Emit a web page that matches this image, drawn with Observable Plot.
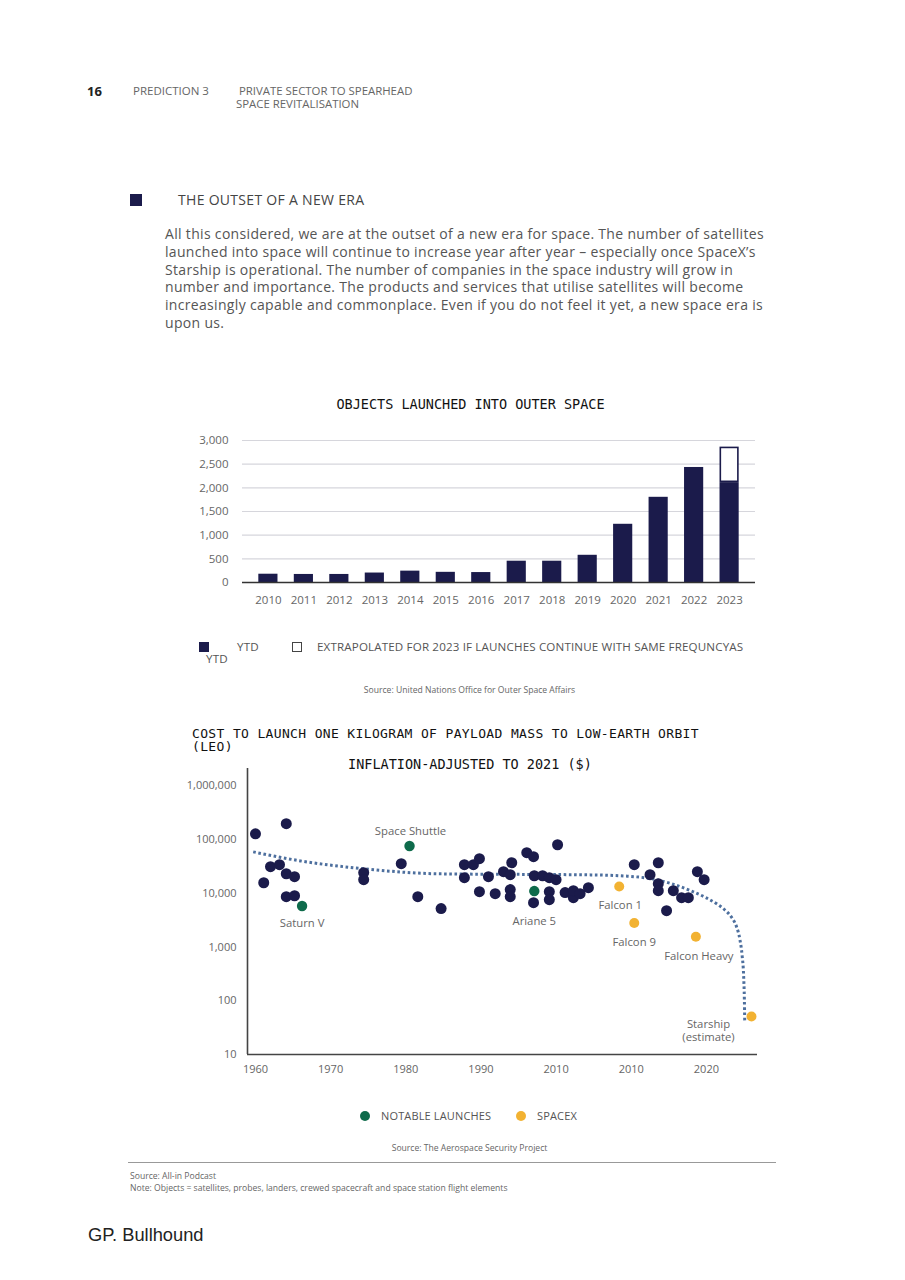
<!DOCTYPE html>
<html>
<head>
<meta charset="utf-8">
<script src="https://cdn.jsdelivr.net/npm/d3@7"></script>
<script src="https://cdn.jsdelivr.net/npm/@observablehq/plot@0.6"></script>
<style>
  html, body { margin: 0; padding: 0; background: #fff; }
  #page { position: relative; width: 905px; height: 1280px; overflow: hidden; font-family: "Open Sans", sans-serif; color: #555; }
  .abs { position: absolute; white-space: nowrap; }
  .mono { font-family: "DejaVu Sans Mono", monospace; color: #111; font-size: 13.5px; }
  .small { font-size: 8.6px; color: #666; }
  .leg { font-size: 11.6px; color: #555; line-height: 14px; letter-spacing: 0.15px; }
</style>
</head>
<body>
<div id="page">
  <div class="abs" style="left:87px;top:83px;font-size:13px;font-weight:bold;color:#222;line-height:16px;">16</div>
  <div class="abs" style="left:133px;top:84px;font-size:11.5px;color:#666;line-height:13px;">PREDICTION 3</div>
  <div class="abs" style="left:236px;top:84px;font-size:11.4px;color:#666;line-height:13px;">&nbsp;PRIVATE SECTOR TO SPEARHEAD<br>SPACE REVITALISATION</div>

  <div class="abs" style="left:130px;top:194px;width:12px;height:12px;background:#1b1b4b;"></div>
  <div class="abs" style="left:178px;top:191px;font-size:14px;letter-spacing:0.3px;color:#444;line-height:17px;">THE OUTSET OF A NEW ERA</div>
  <div class="abs" style="left:165px;top:225px;font-size:14px;letter-spacing:0.32px;color:#555;line-height:17.8px;">All this considered, we are at the outset of a new era for space. The number of satellites<br>launched into space will continue to increase year after year – especially once SpaceX’s<br>Starship is operational. The number of companies in the space industry will grow in<br>number and importance. The products and services that utilise satellites will become<br>increasingly capable and commonplace. Even if you do not feel it yet, a new space era is<br>upon us.</div>

  <div class="abs mono" style="left:0;width:905px;text-align:center;padding-left:36px;box-sizing:border-box;top:396px;line-height:16px;">OBJECTS LAUNCHED INTO OUTER SPACE</div>
  <div id="bars" class="abs" style="left:180px;top:425px;"></div>

  <div class="abs" style="left:199px;top:642px;width:10px;height:10px;background:#1b1b4b;"></div>
  <div class="abs leg" style="left:237px;top:640px;">YTD</div>
  <div class="abs leg" style="left:206px;top:652px;">YTD</div>
  <div class="abs" style="left:292px;top:642px;width:8px;height:8px;border:1.3px solid #444;"></div>
  <div class="abs leg" style="left:317px;top:640px;">EXTRAPOLATED FOR 2023 IF LAUNCHES CONTINUE WITH SAME FREQUNCYAS</div>
  <div class="abs small" style="left:0;width:905px;text-align:center;padding-left:34px;box-sizing:border-box;top:685px;line-height:11px;">Source: United Nations Office for Outer Space Affairs</div>

  <div class="abs mono" style="left:192px;top:727px;font-size:13px;letter-spacing:0.35px;line-height:13px;">COST TO LAUNCH ONE KILOGRAM OF PAYLOAD MASS TO LOW-EARTH ORBIT<br>(LEO)</div>
  <div id="scatter" class="abs" style="left:180px;top:760px;"></div>
  <div class="abs mono" style="left:348px;top:756px;line-height:16px;z-index:2;">INFLATION-ADJUSTED TO 2021 ($)</div>

  <div class="abs" style="left:360px;top:1111px;width:10px;height:10px;border-radius:50%;background:#0e6b4b;"></div>
  <div class="abs leg" style="left:381px;top:1109px;font-size:11px;">NOTABLE LAUNCHES</div>
  <div class="abs" style="left:516px;top:1111px;width:10px;height:10px;border-radius:50%;background:#f2b232;"></div>
  <div class="abs leg" style="left:537px;top:1109px;font-size:11px;">SPACEX</div>
  <div class="abs small" style="left:0;width:905px;text-align:center;padding-left:34px;box-sizing:border-box;top:1143px;line-height:11px;">Source: The Aerospace Security Project</div>

  <div class="abs" style="left:128px;top:1162px;width:648px;height:1px;background:#999;"></div>
  <div class="abs small" style="left:130px;top:1170px;line-height:12px;">Source: All-in Podcast<br>Note: Objects = satellites, probes, landers, crewed spacecraft and space station flight elements</div>

  <div class="abs" style="left:88px;top:1224px;font-family:'Liberation Sans',Arial,sans-serif;font-size:18.3px;color:#222;line-height:22px;">GP. Bullhound</div>
</div>
<script>
// ---------- Bar chart data ----------
const years = [2010, 2011, 2012, 2013, 2014, 2015, 2016, 2017, 2018, 2019, 2020, 2021, 2022, 2023];
const objectsYTD = [175, 170, 170, 200, 240, 215, 210, 450, 450, 575, 1230, 1800, 2430, 2110];
const extrapolatedYear = "2023";
const extrapolated2023 = 2860;
const barTicks = [0, 500, 1000, 1500, 2000, 2500, 3000];

// ---------- Scatter chart data ----------
const launchYears = [1960.0, 1964.1, 1961.1, 1962.0, 1963.2, 1964.1, 1965.2, 1964.1, 1965.2, 1974.4,
  1974.4, 1979.4, 1981.6, 1984.7, 1987.8, 1989.0, 1989.8, 1987.8, 1991.0, 1989.8,
  1991.9, 1993.0, 1994.1, 1993.9, 1993.9, 1993.9, 1996.1, 1997.0, 2000.2, 1997.1,
  1998.2, 1999.1, 2000.0, 1997.0, 1999.1, 1999.1, 2001.2, 2002.3, 2002.3, 2003.2,
  2004.3, 2010.4, 2013.6, 2012.5, 2013.6, 2013.6, 2015.6, 2016.7, 2017.6, 2014.7,
  2018.8, 2019.7];
const launchCosts = [128000, 197000, 15700, 31200, 34000, 23100, 20400, 8650, 9000, 24200,
  17900, 35500, 8650, 5200, 34000, 34000, 44000, 19500, 20400, 10700,
  9850, 25200, 37000, 22200, 11700, 8650, 56900, 47900, 80000, 21200,
  21200, 19500, 17900, 6700, 10700, 7600, 10300, 8300, 11200, 9850,
  12700, 34000, 37000, 22200, 15100, 11200, 11200, 8300, 8300, 4750,
  25200, 17900];

const notableNames = ["Saturn V", "Space Shuttle", "Ariane 5"];
const notableYears = [1966.2, 1980.5, 1997.1];
const notableCosts = [5800, 76000, 11000];

const spacexNames = ["Falcon 1", "Falcon 9", "Falcon Heavy", "Starship\n(estimate)"];
const spacexYears = [2008.4, 2010.4, 2018.6, 2026.0];
const spacexCosts = [13400, 2800, 1550, 51];

const trendYears = [1959.7, 1966, 1974.4, 1984.6, 1995, 2004.6, 2009.5, 2012.5, 2015.2, 2017.9, 2020.0, 2021.5, 2022.6, 2023.4, 2024.0, 2024.45, 2024.75, 2024.95, 2025.05, 2025.1];
const trendCosts = [59000, 40000, 28600, 23000, 22500, 22000, 20800, 18800, 15300, 11200, 8200, 6200, 4700, 3500, 2400, 1400, 700, 300, 110, 42];

const xTicks = [1960, 1970, 1980, 1990, 2000, 2010, 2020];
const xTickLabels = ["1960", "1970", "1980", "1990", "2010", "2010", "2020"];
const yTicks = [10, 100, 1000, 10000, 100000, 1000000];

// ---------- styles ----------
const navy = "#1b1b4b";
const green = "#0e6b4b";
const orange = "#f2b232";
const trendColor = "#4d6f9e";

// ---------- Bar chart ----------
const barRows = years.map((y, i) => ({year: String(y), value: objectsYTD[i]}));
const extraRows = [{year: extrapolatedYear, y1: objectsYTD[years.indexOf(+extrapolatedYear)], y2: extrapolated2023}];

const barChart = Plot.plot({
  width: 590, height: 190,
  marginLeft: 62, marginRight: 15, marginTop: 15, marginBottom: 33,
  style: {fontFamily: "Open Sans", fontSize: "11.5px", color: "#666", background: "transparent"},
  x: {type: "band", domain: years.map(String), padding: 0.46, round: false, label: null},
  y: {domain: [0, 3000], label: null},
  marks: [
    Plot.gridY(barTicks, {stroke: "#d6d6dc", strokeOpacity: 1, strokeWidth: 1.2}),
    Plot.barY(barRows, {x: "year", y: "value", fill: navy}),
    Plot.barY(extraRows, {x: "year", y1: "y1", y2: "y2", fill: "white", stroke: navy, strokeWidth: 1.6, inset: 0.8}),
    Plot.ruleY([0], {stroke: "#333", strokeWidth: 1.6}),
    Plot.axisX({tickSize: 0, tickPadding: 13, label: null}),
    Plot.axisY(barTicks, {tickSize: 0, tickPadding: 14, tickFormat: d3.format(","), label: null})
  ]
});
document.getElementById("bars").appendChild(barChart);

// ---------- Scatter chart ----------
const launches = launchYears.map((y, i) => ({year: y, cost: launchCosts[i]}));
const notable = notableNames.map((n, i) => ({name: n, year: notableYears[i], cost: notableCosts[i]}));
const spacex = spacexNames.map((n, i) => ({name: n, year: spacexYears[i], cost: spacexCosts[i]}));
const trend = trendYears.map((y, i) => ({year: y, cost: trendCosts[i]}));

const labelFont = {fill: "#666", fontSize: 11.3, fontFamily: "Open Sans", lineHeight: 1.15};
function label(rows, name, dx, dy) {
  return Plot.text(rows.filter(d => d.name === name), {x: "year", y: "cost", text: "name", dx, dy, ...labelFont});
}

const xMin = 1958.94, xMax = 2026.8;
const scatter = Plot.plot({
  width: 590, height: 325,
  marginLeft: 67, marginRight: 13, marginTop: 8, marginBottom: 31,
  style: {fontFamily: "Open Sans", fontSize: "11px", color: "#666", background: "transparent"},
  x: {domain: [xMin, xMax], label: null},
  y: {type: "log", domain: [10, 2.1e6], label: null},
  marks: [
    Plot.line(trend, {x: "year", y: "cost", stroke: trendColor, strokeWidth: 3, strokeDasharray: "2.6,2.6", strokeLinecap: "butt", curve: "monotone-x"}),
    Plot.dot(launches, {x: "year", y: "cost", r: 5.5, fill: navy}),
    Plot.dot(notable, {x: "year", y: "cost", r: 5.2, fill: green}),
    Plot.dot(spacex, {x: "year", y: "cost", r: 5, fill: orange}),
    label(notable, "Saturn V", 0, 17),
    label(notable, "Space Shuttle", 1, -15),
    label(notable, "Ariane 5", 0, 30),
    label(spacex, "Falcon 1", 1, 18),
    label(spacex, "Falcon 9", 0, 19),
    label(spacex, "Falcon Heavy", 3, 19),
    label(spacex, "Starship\n(estimate)", -43, 14),
    Plot.ruleX([xMin], {stroke: "#444", strokeWidth: 1.6}),
    Plot.ruleY([10], {stroke: "#444", strokeWidth: 1.6}),
    Plot.axisX(xTicks, {tickSize: 0, tickPadding: 11, tickFormat: d => xTickLabels[xTicks.indexOf(d)], label: null}),
    Plot.axisY(yTicks, {tickSize: 0, tickPadding: 11, tickFormat: d3.format(","), label: null})
  ]
});
document.getElementById("scatter").appendChild(scatter);
</script>
</body>
</html>
